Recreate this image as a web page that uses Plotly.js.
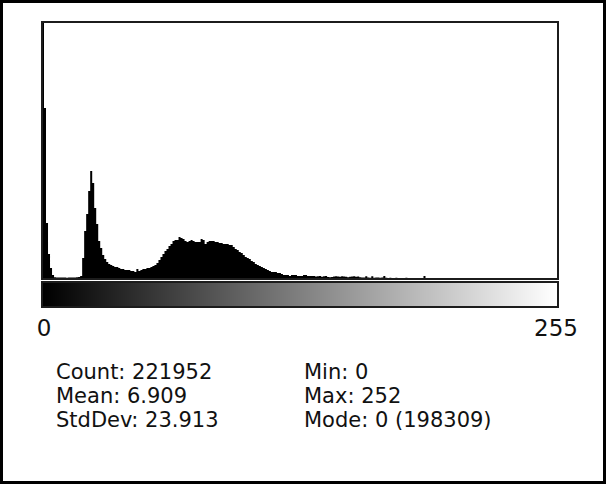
<!DOCTYPE html>
<html>
<head>
<meta charset="utf-8">
<script src="https://cdn.plot.ly/plotly-3.0.1.min.js"></script>
<style>
  html, body { margin: 0; padding: 0; background: #fff; }
  #chart { width: 606px; height: 484px; }
</style>
</head>
<body>
<div id="chart"></div>
<script>
// ---- data ----
const binLevels = Array.from({length: 256}, (_, i) => i); // grey levels 0..255 (categories)
const binCounts = [
  198309, 1360, 440, 192, 80, 24,
  6, 5, 4, 4, 5, 4, 3, 4, 5, 4, 5, 6, 8,
  16, 160, 376, 512, 696, 856, 760, 560, 432, 296,
  240, 184, 152, 128, 112, 104, 96, 88, 88, 80,
  72, 72, 64, 64, 64, 56, 56, 48, 72, 56,
  64, 72, 72, 80, 80, 88, 96, 104, 120, 144,
  168, 192, 216, 232, 256, 272, 296, 304, 304, 328,
  320, 312, 296, 288, 296, 304, 296, 288, 288, 288,
  312, 304, 272, 288, 296, 296, 296, 288, 288, 280,
  280, 272, 272, 272, 264, 264, 248, 232, 224, 208,
  200, 184, 168, 160, 152, 136, 128, 112, 104, 96,
  88, 80, 72, 64, 56, 48, 48, 48, 40, 40,
  32, 24, 24, 24, 16, 24, 24, 24, 16, 16,
  16, 24, 24, 16, 16,
  16, 16, 12, 14, 16, 10, 14, 16, 8, 6, 8, 12, 14, 12, 10, 14, 12, 10, 6, 10, 12, 14, 10, 12,
  6, 5, 4, 14, 4, 3, 14, 3, 4, 5, 3, 4,
  16,
  2, 1, 2, 1, 1, 2, 1, 0, 1, 1, 2, 1, 0, 1, 1, 0, 1, 1, 0,
  16,
  0, 1, 0, 0, 1, 0, 0, 0, 1, 0, 0, 0, 0, 1, 0, 0, 0, 0, 0, 1,
  0, 0, 0, 0, 0, 1, 0, 0, 0, 0, 0, 0, 0, 0, 0, 0, 1, 0, 0, 0,
  0, 0, 0, 0, 0, 0, 0, 0, 0, 0, 0, 0, 0, 0, 0, 0, 0, 0, 0, 0,
  0, 0, 0, 0, 0
];
const axisTickVals = [0, 255];
const axisTickText = ['0', '255'];
const statsLeft = ['Count: 221952', 'Mean: 6.909', 'StdDev: 23.913'];
const statsRight = ['Min: 0', 'Max: 252', 'Mode: 0 (198309)'];
const yMaxShown = 2040; // display ceiling (mode bin is clipped)

// ---- layout helpers (pixel -> paper) ----
const W = 606, H = 484;
const M = {l: 43, r: 49, t: 23, b: 177};
const PW = W - M.l - M.r, PH = H - M.t - M.b;
const px = x => (x - M.l) / PW;
const py = y => (H - M.b - y) / PH;

const font = 'DejaVu Sans, Verdana, sans-serif';
const lineCol = '#1c1c1c';

const traces = [
  {
    type: 'scatter', mode: 'lines', x: binLevels, y: binCounts,
    xaxis: 'x', yaxis: 'y',
    line: {shape: 'hvh', width: 0, color: '#000'},
    fill: 'tozeroy', fillcolor: '#000',
    hoverinfo: 'x+y'
  },
  {
    type: 'heatmap', x: binLevels, y: [0], z: [binLevels],
    xaxis: 'x2', yaxis: 'y2',
    colorscale: [[0, '#000000'], [1, '#ffffff']],
    zmin: 0, zmax: 255, showscale: false, hoverinfo: 'skip'
  }
];

const annotations = [];
const rowsY = [372, 396, 419.5];
for (let k = 0; k < 3; k++) {
  const base = {xref: 'paper', yref: 'paper', xanchor: 'left', yanchor: 'middle',
                showarrow: false, font: {family: font, size: 21, color: '#111'}};
  annotations.push(Object.assign({}, base, {x: px(54), y: py(rowsY[k]), text: statsLeft[k]}));
  annotations.push(Object.assign({}, base, {x: px(302), y: py(rowsY[k]), text: statsRight[k]}));
}

const layout = {
  width: W, height: H,
  margin: M,
  paper_bgcolor: '#fff', plot_bgcolor: '#fff',
  showlegend: false,
  xaxis: {
    domain: [0, 1], anchor: 'y', range: [0, 256],
    showline: true, mirror: true, linecolor: lineCol, linewidth: 2,
    showgrid: false, zeroline: false, showticklabels: false, ticks: ''
  },
  yaxis: {
    domain: [py(278), 1], anchor: 'x', range: [0, yMaxShown],
    showline: true, mirror: true, linecolor: lineCol, linewidth: 2,
    showgrid: false, zeroline: false, showticklabels: false, ticks: ''
  },
  xaxis2: {
    domain: [0, 1], anchor: 'y2', range: [-0.5, 255.5],
    showline: true, mirror: true, linecolor: lineCol, linewidth: 2,
    showgrid: false, zeroline: false, ticks: '',
    tickmode: 'array', tickvals: axisTickVals, ticktext: axisTickText,
    tickfont: {family: font, size: 23, color: '#111'},
    ticklabelstandoff: 0
  },
  yaxis2: {
    domain: [py(306), py(283)], anchor: 'x2', range: [-0.5, 0.5],
    showline: true, mirror: true, linecolor: lineCol, linewidth: 2,
    showgrid: false, zeroline: false, showticklabels: false, ticks: ''
  },
  annotations: annotations,
  shapes: [{
    type: 'rect', xref: 'paper', yref: 'paper', layer: 'above',
    x0: px(1.5), x1: px(604.5), y0: py(482.5), y1: py(1.5),
    line: {color: '#000', width: 3}, fillcolor: 'rgba(0,0,0,0)'
  }]
};

Plotly.newPlot('chart', traces, layout, {displayModeBar: false, staticPlot: true});
</script>
</body>
</html>
